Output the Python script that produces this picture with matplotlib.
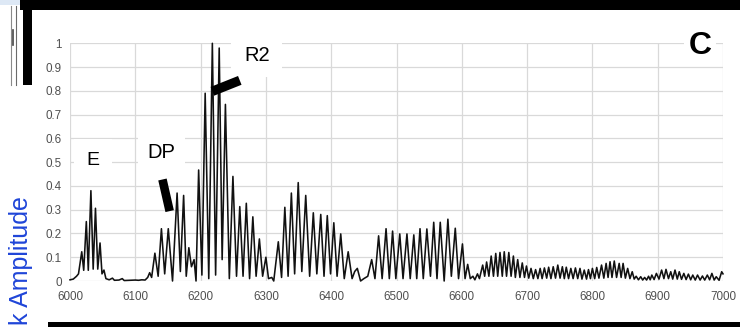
import matplotlib as mpl
mpl.use('Agg')

import matplotlib.pyplot as plt
from matplotlib.patches import Rectangle
from matplotlib.lines import Line2D

plt.rcParams['font.family'] = ['Liberation Sans', 'DejaVu Sans']

# spectrum vertices (peaks and troughs), band by band
e_band_x = [6000, 6005, 6010, 6013, 6018, 6021, 6025, 6028, 6032, 6035.5, 6039,
            6042.5, 6046, 6049, 6052, 6055, 6060, 6065, 6068, 6075, 6080, 6083,
            6090, 6100, 6105, 6110, 6115]
e_band_y = [0.005, 0.008, 0.02, 0.03, 0.123, 0.045, 0.25, 0.045, 0.38, 0.05, 0.306,
            0.05, 0.16, 0.03, 0.046, 0.01, 0.005, 0.012, 0.003, 0.004, 0.01, 0.002,
            0.003, 0.004, 0.003, 0.005, 0.004]

dp_band_x = [6119, 6122, 6125, 6130, 6135, 6140, 6145, 6150.5, 6157, 6164, 6169,
             6174, 6178, 6182, 6186, 6190, 6193]
dp_band_y = [0.015, 0.035, 0.015, 0.117, 0.02, 0.22, 0.03, 0.22, 0.0, 0.37, 0.04,
             0.36, 0.02, 0.14, 0.06, 0.09, 0.0]

r2_band_x = [6197, 6202, 6207, 6212.5, 6218, 6223, 6228.5, 6233, 6238, 6244,
             6249.5, 6255, 6260, 6265, 6270, 6275, 6280, 6285, 6290, 6295, 6300,
             6304, 6309, 6312]
r2_band_y = [0.467, 0.025, 0.79, 0.01, 1.0, 0.025, 0.98, 0.09, 0.743, 0.01,
             0.44, 0.02, 0.313, 0.02, 0.327, 0.01, 0.27, 0.02, 0.177, 0.02, 0.10,
             0.01, 0.015, 0.0]

mid_band_x = [6319, 6324, 6329, 6334, 6339, 6344, 6349.5, 6355, 6361, 6367,
              6372.6, 6378, 6384, 6389, 6394, 6399, 6404, 6409, 6414.6, 6420,
              6426, 6432, 6436, 6440, 6445, 6450, 6456]
mid_band_y = [0.165, 0.015, 0.31, 0.02, 0.37, 0.03, 0.414, 0.04, 0.36, 0.02,
              0.287, 0.03, 0.28, 0.02, 0.275, 0.03, 0.245, 0.02, 0.198, 0.01,
              0.123, 0.01, 0.04, 0.053, 0.0, 0.01, 0.02]

r3_band_x = [6462, 6467, 6472.6, 6478, 6484, 6489, 6494, 6499, 6505, 6510, 6516,
             6521, 6526.5, 6531, 6536, 6541, 6546.5, 6552, 6557, 6562, 6567,
             6573, 6578.7, 6584, 6590, 6595, 6601, 6605]
r3_band_y = [0.09, 0.01, 0.19, 0.01, 0.22, 0.01, 0.21, 0.01, 0.198, 0.01, 0.198,
             0.01, 0.194, 0.01, 0.22, 0.01, 0.219, 0.02, 0.247, 0.01, 0.247,
             0.0, 0.26, 0.02, 0.222, 0.01, 0.156, 0.01]

r4_band_x = [6609, 6613, 6617, 6620, 6624, 6627, 6632, 6635, 6638, 6641.5, 6645,
             6648.5, 6652, 6655, 6658.5, 6662, 6665, 6668.5, 6672, 6675.5, 6679,
             6682, 6685.6, 6689, 6692.6, 6696, 6699, 6702.5]
r4_band_y = [0.07, 0.01, 0.02, 0.005, 0.03, 0.01, 0.067, 0.02, 0.08, 0.02, 0.105,
             0.02, 0.116, 0.02, 0.12, 0.02, 0.123, 0.02, 0.12, 0.02, 0.105,
             0.015, 0.09, 0.015, 0.076, 0.015, 0.063, 0.012]

tail_x = [6706, 6709.5, 6713, 6716.5, 6720, 6723, 6726.5, 6730, 6733, 6736.5,
          6740, 6743.5, 6747, 6750.5, 6754, 6757, 6760, 6763.5, 6767, 6770.5,
          6774, 6777.5, 6781, 6784, 6787.5, 6791, 6794, 6797, 6800, 6803.5,
          6806.6, 6810, 6814, 6817.5, 6821, 6824, 6827, 6830, 6833.5, 6837,
          6841, 6844, 6847, 6850.5, 6854, 6857.5, 6861, 6864, 6867, 6870.5,
          6874, 6877, 6880, 6883, 6886, 6888.5, 6891, 6894.5, 6898, 6902,
          6906, 6909.5, 6912.7, 6916.5, 6920, 6923, 6926.5, 6930, 6933, 6936.5,
          6940, 6943.5, 6947, 6950.5, 6953.7, 6957.5, 6961, 6965, 6968.5,
          6972, 6976, 6979.5, 6983, 6986.5, 6989.6, 6994, 6998, 7000]
tail_y = [0.053, 0.01, 0.048, 0.01, 0.053, 0.01, 0.055, 0.012, 0.058, 0.01,
          0.06, 0.012, 0.067, 0.012, 0.06, 0.01, 0.058, 0.01, 0.053, 0.01,
          0.055, 0.01, 0.053, 0.008, 0.046, 0.008, 0.048, 0.01, 0.053, 0.01,
          0.057, 0.012, 0.067, 0.012, 0.074, 0.015, 0.081, 0.015, 0.084, 0.015,
          0.074, 0.015, 0.074, 0.012, 0.053, 0.01, 0.039, 0.008, 0.02, 0.005,
          0.018, 0.004, 0.015, 0.004, 0.02, 0.005, 0.025, 0.006, 0.032, 0.008,
          0.046, 0.01, 0.049, 0.01, 0.039, 0.008, 0.046, 0.008, 0.039, 0.007,
          0.032, 0.006, 0.029, 0.005, 0.025, 0.004, 0.025, 0.004, 0.021,
          0.004, 0.025, 0.005, 0.032, 0.004, 0.018, 0.003, 0.039, 0.03]

x_ticks = [6000, 6100, 6200, 6300, 6400, 6500, 6600, 6700, 6800, 6900, 7000]
y_ticks = [0, 0.1, 0.2, 0.3, 0.4, 0.5, 0.6, 0.7, 0.8, 0.9, 1]
y_tick_labels = ['0', '0.1', '0.2', '0.3', '0.4', '0.5', '0.6', '0.7', '0.8', '0.9', '1']

W, H = 740, 327
fig = plt.figure(figsize=(W / 100, H / 100), dpi=100)
fig.patch.set_facecolor('white')

ax = fig.add_axes([70 / W, 1 - 281 / H, 653 / W, 237.7 / H])
ax.set_xlim(6000, 7000)
ax.set_ylim(0, 1)
for s in ax.spines.values():
    s.set_visible(False)
ax.set_xticks(x_ticks)
ax.set_yticks(y_ticks)
ax.set_yticklabels(y_tick_labels)
ax.tick_params(length=0, labelsize=8.4, labelcolor='#505050')
ax.tick_params(axis='y', pad=6)
ax.tick_params(axis='x', pad=7)
ax.grid(True, color='#d9d9d9', lw=0.9, zorder=0)
ax.set_axisbelow(True)

xs = e_band_x + dp_band_x + r2_band_x + mid_band_x + r3_band_x + r4_band_x + tail_x
ys = e_band_y + dp_band_y + r2_band_y + mid_band_y + r3_band_y + r4_band_y + tail_y
ax.plot(xs, ys, color='#111111', lw=1.15, zorder=3, clip_on=False,
        solid_joinstyle='round')

# labels in white boxes
ax.text(6035, 0.509, 'E', fontsize=14, ha='center', va='center', zorder=2,
        bbox=dict(facecolor='white', edgecolor='none', pad=9))
ax.text(6140, 0.54, 'DP', fontsize=14.5, ha='center', va='center', zorder=2,
        bbox=dict(facecolor='white', edgecolor='none', pad=7))
ax.text(6286, 0.949, 'R2', fontsize=14.5, ha='center', va='center', zorder=2,
        bbox=dict(facecolor='white', edgecolor='none', pad=9))
ax.text(6965, 0.987, 'C', fontsize=23, fontweight='bold', ha='center', va='center',
        zorder=2, bbox=dict(facecolor='white', edgecolor='none', pad=3))

# pointer bars
ax.plot([6141.6, 6152.6], [0.427, 0.294], color='black', lw=6.2, solid_capstyle='butt', zorder=4)
ax.plot([6218, 6260], [0.798, 0.844], color='black', lw=6.8, solid_capstyle='butt', zorder=4)

# page fragments around the panel
fig.add_artist(Rectangle((0, 1 - 5 / H), 20 / W, 5 / H, transform=fig.transFigure,
                         facecolor='#dde8f5', edgecolor='none'))
fig.add_artist(Rectangle((20 / W, 1 - 10 / H), 720 / W, 10 / H, transform=fig.transFigure,
                         facecolor='black', edgecolor='none'))
fig.add_artist(Rectangle((23 / W, 1 - 85 / H), 9 / W, 85 / H, transform=fig.transFigure,
                         facecolor='black', edgecolor='none'))
fig.add_artist(Rectangle((48 / W, 0), 692 / W, 5 / H, transform=fig.transFigure,
                         facecolor='black', edgecolor='none'))
for lx, c in [(10.5, '#8a8a8a'), (16, '#6a6a6a')]:
    fig.add_artist(Line2D([lx / W, lx / W], [1 - 85 / H, 1 - 6 / H], transform=fig.transFigure,
                          color=c, lw=0.8))
fig.add_artist(Line2D([13 / W, 13 / W], [1 - 45 / H, 1 - 30 / H], transform=fig.transFigure,
                      color='#444444', lw=1.2))

fig.text(21 / W, 2 / H, 'k Amplitude', rotation=90, fontsize=18, color='#1f45d8',
         ha='center', va='bottom')

fig.savefig('out.png', dpi=100)
